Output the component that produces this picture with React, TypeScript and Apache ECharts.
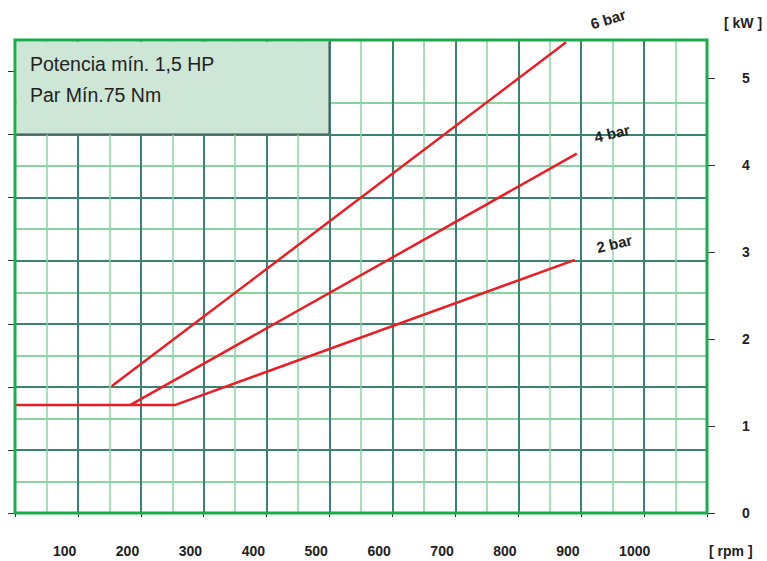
import React, { useEffect, useRef } from 'react';
import * as echarts from 'echarts';

// Axis tick values
const xTickLabels = [0, 100, 200, 300, 400, 500, 600, 700, 800, 900, 1000];
const kwTicks = [0, 1, 2, 3, 4, 5];
const gridRowTicks = [0, 1, 2, 3, 4, 5, 6, 7];

// Series data (rpm -> kW)
const bar2Rpm = [0, 254, 890];
const bar2Kw = [1.24, 1.24, 2.91];
const bar4Rpm = [183, 893];
const bar4Kw = [1.24, 4.13];
const bar6Rpm = [154, 876];
const bar6Kw = [1.46, 5.41];
const seriesNames = ['2 bar', '4 bar', '6 bar'];

const infoLines = ['Potencia mín. 1,5 HP', 'Par Mín.75 Nm'];

const RED = '#ec1c24';
const DARK = '#3a8273';
const BORDER = '#1bad4b';
const FONT = 'Liberation Sans, Arial, sans-serif';

function makeSeries(name: string, rpm: number[], kw: number[], rotate: number, offset: number[]) {
  const data = rpm.map((r, i) => {
    const item: any = { value: [r, kw[i]] };
    if (i === rpm.length - 1) {
      item.label = {
        show: true,
        formatter: name,
        position: 'inside',
        rotate,
        offset,
        color: '#222',
        fontSize: 15,
        fontWeight: 'bold',
        fontFamily: FONT,
      };
    }
    return item;
  });
  return {
    type: 'line',
    name,
    xAxisIndex: 0,
    yAxisIndex: 1,
    data,
    symbol: 'circle',
    symbolSize: 0,
    showSymbol: true,
    silent: true,
    lineStyle: { color: RED, width: 2.5 },
    itemStyle: { color: RED },
    label: { show: false },
    emphasis: { disabled: true },
    z: 3,
  };
}

export default function App() {
  const ref = useRef<HTMLDivElement>(null);
  useEffect(() => {
    if (!ref.current) return;
    const chart = echarts.init(ref.current, undefined, { renderer: 'svg' });
    const option: any = {
      animation: false,
      grid: {
        left: 15,
        right: 60,
        top: 40,
        bottom: 48,
        containLabel: false,
        outerBoundsMode: 'none',
        show: true,
        borderColor: BORDER,
        borderWidth: 3,
        backgroundColor: 'transparent',
        z: 4,
      },
      xAxis: [
        {
          type: 'value',
          min: 0,
          max: 1100,
          interval: 100,
          axisLine: { show: false },
          axisTick: { show: true, length: 4, lineStyle: { color: '#333', width: 1 } },
          splitLine: { show: true, showMinLine: false, showMaxLine: false, lineStyle: { color: DARK, width: 2 } },
          minorTick: { show: false, splitNumber: 2 },
          minorSplitLine: { show: true, lineStyle: { color: '#86d6a2', width: 1.5 } },
          axisLabel: {
            customValues: xTickLabels,
            align: 'right',
            margin: 31,
            formatter: (v: number) => `{t|${v}}`,
            rich: {
              t: { width: 25, align: 'left', fontSize: 14, fontWeight: 'bold', color: '#222', fontFamily: FONT },
            },
          },
          name: '[ rpm ]',
          nameLocation: 'end',
          nameGap: 2,
          nameTextStyle: {
            fontSize: 14,
            fontWeight: 'bold',
            color: '#222',
            fontFamily: FONT,
            align: 'left',
            verticalAlign: 'top',
            padding: [31, 0, 0, 0],
          },
        },
      ],
      yAxis: [
        {
          type: 'value',
          position: 'left',
          min: 0,
          max: 7.5,
          interval: 1,
          axisLine: { show: false },
          axisTick: { show: true, customValues: gridRowTicks, length: 7, lineStyle: { color: '#333', width: 1 } },
          axisLabel: { show: false },
          splitLine: { show: true, showMinLine: false, showMaxLine: false, lineStyle: { color: DARK, width: 2 } },
          minorTick: { show: false, splitNumber: 2 },
          minorSplitLine: { show: true, lineStyle: { color: '#62c683', width: 1.5 } },
        },
        {
          type: 'value',
          position: 'right',
          min: 0,
          max: 5.437,
          interval: 1,
          axisLine: { show: false },
          splitLine: { show: false },
          axisTick: { show: true, customValues: kwTicks, length: 8, lineStyle: { color: '#333', width: 1 } },
          axisLabel: {
            customValues: kwTicks,
            margin: 35,
            fontSize: 14,
            fontWeight: 'bold',
            color: '#222',
            fontFamily: FONT,
          },
          name: '[ kW ]',
          nameLocation: 'end',
          nameGap: 10,
          nameTextStyle: {
            fontSize: 14,
            fontWeight: 'bold',
            color: '#222',
            fontFamily: FONT,
            align: 'left',
            padding: [0, 0, 0, 17],
          },
        },
      ],
      graphic: [
        {
          type: 'rect',
          z: 1,
          shape: { x: 16.5, y: 41.5, width: 312.5, height: 92.5 },
          style: { fill: '#cde6d5' },
        },
        {
          type: 'polyline',
          z: 1,
          shape: { points: [[329, 41.5], [329, 134], [16.5, 134]] },
          style: { stroke: '#4a4a4a', lineWidth: 1, fill: null },
        },
        {
          type: 'text',
          z: 2,
          x: 30,
          y: 63.5,
          style: { text: infoLines[0], fontSize: 19.5, fontFamily: FONT, fill: '#222', verticalAlign: 'middle' },
        },
        {
          type: 'text',
          z: 2,
          x: 30,
          y: 95,
          style: { text: infoLines[1], fontSize: 19.5, fontFamily: FONT, fill: '#222', verticalAlign: 'middle' },
        },
      ],
      series: [
        makeSeries(seriesNames[0], bar2Rpm, bar2Kw, 13, [42, -7]),
        makeSeries(seriesNames[1], bar4Rpm, bar4Kw, 13, [39, -12]),
        makeSeries(seriesNames[2], bar6Rpm, bar6Kw, 17, [47, -10]),
      ],
    };
    chart.setOption(option);
    return () => chart.dispose();
  }, []);
  return (
    <div
      ref={ref}
      style={{ position: 'absolute', left: 0, top: 0, width: 767, height: 561, background: '#fff' }}
    />
  );
}
